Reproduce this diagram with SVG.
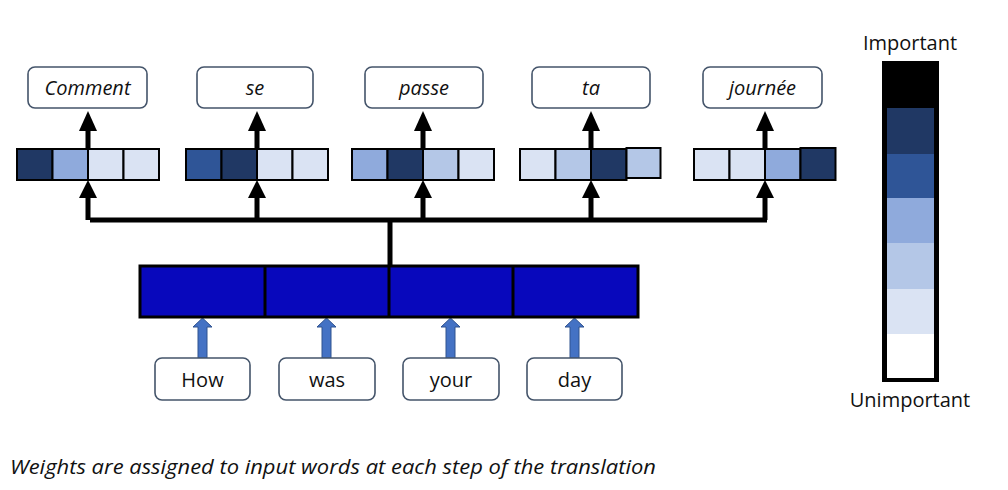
<svg xmlns="http://www.w3.org/2000/svg" width="1008" height="490" viewBox="0 0 1008 490">
<defs>
<style>
.lbl{fill:#fff;stroke:#44546a;stroke-width:1.6}
.t{font-family:"Open Sans","Noto Sans","Liberation Sans",sans-serif;font-size:20px;fill:#111;text-anchor:middle}
.ti{font-style:italic}
.cell{stroke:#000;stroke-width:2}
.c0{fill:#203864}.c1{fill:#2f5597}.c2{fill:#8faadc}.c3{fill:#b4c7e7}.c4{fill:#dae3f3}
.k{stroke:#000;stroke-width:5;fill:none}
.ah{fill:#000}
.bar{fill:#4472c4;stroke:#2f528f;stroke-width:1}
</style>
</defs>
<rect width="1008" height="490" fill="#fff"/>

<g id="connectors">
  <path class="k" d="M90 220 H767 M390 220 V266"/>
  <path class="k" d="M88 220 V195 M257 220 V195 M423 220 V195 M591 220 V195 M765 220 V195"/>
  <path class="k" d="M88 149 V128 M257 149 V128 M423 149 V128 M591 149 V128 M765 149 V128"/>
  <g class="ah">
    <polygon points="79,198 97,198 88,180"/>
    <polygon points="248,198 266,198 257,180"/>
    <polygon points="414,198 432,198 423,180"/>
    <polygon points="582,198 600,198 591,180"/>
    <polygon points="756,198 774,198 765,180"/>
    <polygon points="79,131 97,131 88,111"/>
    <polygon points="248,131 266,131 257,111"/>
    <polygon points="414,131 432,131 423,111"/>
    <polygon points="582,131 600,131 591,111"/>
    <polygon points="756,131 774,131 765,111"/>
  </g>
  <g class="bars">
    <polygon class="bar" points="198,358 198,327 193,327 202.5,318 212,327 207,327 207,358"/>
    <polygon class="bar" points="322,358 322,327 317,327 326.5,318 336,327 331,327 331,358"/>
    <polygon class="bar" points="446,358 446,327 441,327 450.5,318 460,327 455,327 455,358"/>
    <polygon class="bar" points="570,358 570,327 565,327 574.5,318 584,327 579,327 579,358"/>
  </g>
</g>

<g id="out-comment">
  <rect class="lbl" x="28" y="67" width="119" height="41" rx="7"/>
  <text class="t ti" x="87.5" y="95">Comment</text>
</g>
<g id="out-se">
  <rect class="lbl" x="197" y="67" width="116" height="41" rx="7"/>
  <text class="t ti" x="255" y="95">se</text>
</g>
<g id="out-passe">
  <rect class="lbl" x="365" y="67" width="118" height="41" rx="7"/>
  <text class="t ti" x="424" y="95">passe</text>
</g>
<g id="out-ta">
  <rect class="lbl" x="532" y="67" width="118" height="41" rx="7"/>
  <text class="t ti" x="591" y="95">ta</text>
</g>
<g id="out-journee">
  <rect class="lbl" x="703" y="67" width="119" height="41" rx="7"/>
  <text class="t ti" x="762.5" y="95">journée</text>
</g>

<g id="w-comment">
  <rect class="cell c0" x="17" y="149" width="35.5" height="31"/>
  <rect class="cell c2" x="52.5" y="149" width="35.5" height="31"/>
  <rect class="cell c4" x="88" y="149" width="35.5" height="31"/>
  <rect class="cell c4" x="123.5" y="149" width="35.5" height="31"/>
</g>
<g id="w-se">
  <rect class="cell c1" x="186" y="149" width="35.5" height="31"/>
  <rect class="cell c0" x="221.5" y="149" width="35.5" height="31"/>
  <rect class="cell c4" x="257" y="149" width="35.5" height="31"/>
  <rect class="cell c4" x="292.5" y="149" width="35.5" height="31"/>
</g>
<g id="w-passe">
  <rect class="cell c2" x="352" y="149" width="35.5" height="31"/>
  <rect class="cell c0" x="387.5" y="149" width="35.5" height="31"/>
  <rect class="cell c3" x="423" y="149" width="35.5" height="31"/>
  <rect class="cell c4" x="458.5" y="149" width="35.5" height="31"/>
</g>
<g id="w-ta">
  <rect class="cell c4" x="520" y="149" width="35.5" height="31"/>
  <rect class="cell c3" x="555.5" y="149" width="35.5" height="31"/>
  <rect class="cell c0" x="591" y="149" width="35.5" height="31"/>
  <rect class="cell c3" x="626.5" y="148" width="34" height="30"/>
</g>
<g id="w-journee">
  <rect class="cell c4" x="694" y="149" width="35.5" height="31"/>
  <rect class="cell c4" x="729.5" y="149" width="35.5" height="31"/>
  <rect class="cell c2" x="765" y="149" width="35.5" height="31"/>
  <rect class="cell c0" x="800.5" y="148" width="35" height="32"/>
</g>

<g id="encoder">
  <rect x="140" y="266" width="498" height="51" fill="#0808bc" stroke="#000" stroke-width="3"/>
  <path d="M265 266 V317 M389 266 V317 M513 266 V317" stroke="#000" stroke-width="3"/>
</g>

<g id="in-how">
  <rect class="lbl" x="155" y="358" width="95" height="42" rx="7"/>
  <text class="t" x="202.5" y="387">How</text>
</g>
<g id="in-was">
  <rect class="lbl" x="279" y="358" width="96" height="42" rx="7"/>
  <text class="t" x="327" y="387">was</text>
</g>
<g id="in-your">
  <rect class="lbl" x="403" y="358" width="96" height="42" rx="7"/>
  <text class="t" x="451" y="387">your</text>
</g>
<g id="in-day">
  <rect class="lbl" x="527" y="358" width="95" height="42" rx="7"/>
  <text class="t" x="574.5" y="387">day</text>
</g>

<g id="scale">
  <rect x="882" y="61" width="57" height="321" fill="#000"/>
  <rect x="887" y="108" width="47" height="47" fill="#203864"/>
  <rect x="887" y="154" width="47" height="45" fill="#2f5597"/>
  <rect x="887" y="198" width="47" height="46" fill="#8faadc"/>
  <rect x="887" y="243" width="47" height="47" fill="#b4c7e7"/>
  <rect x="887" y="289" width="47" height="46" fill="#dae3f3"/>
  <rect x="887" y="334" width="47" height="44" fill="#fff"/>
  <text class="t" x="910" y="50">Important</text>
  <text class="t" x="910" y="407">Unimportant</text>
</g>

<text id="caption" class="t ti" x="10" y="474" style="text-anchor:start" textLength="646" lengthAdjust="spacingAndGlyphs">Weights are assigned to input words at each step of the translation</text>
</svg>
